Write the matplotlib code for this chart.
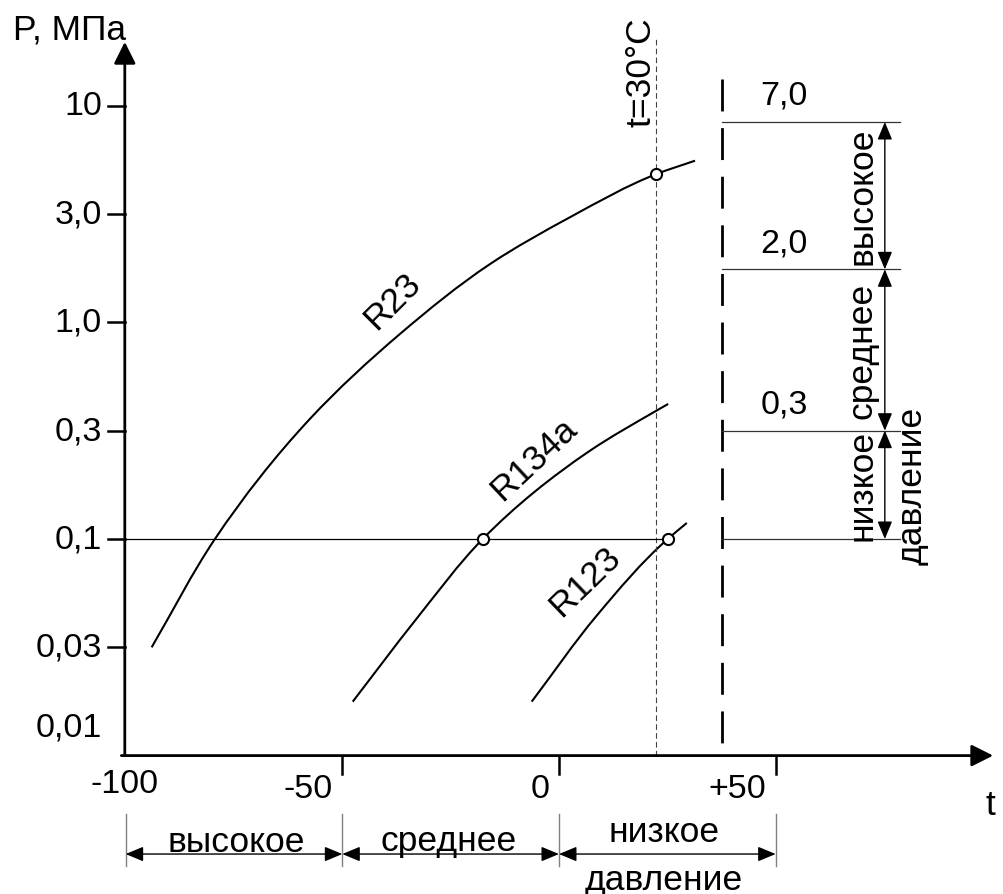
import matplotlib
matplotlib.use("Agg")
import matplotlib.pyplot as plt
import numpy as np
from matplotlib.path import Path
from matplotlib.patches import PathPatch

plt.rcParams['font.family'] = ['Liberation Sans', 'DejaVu Sans']

# y is a schematic scale: one step per tick label (0,1 -> 0, 0,3 -> 1, ...)
y_tick_pos = [-1.74, -1.0, 0.0, 1.0, 2.0, 3.0, 4.0]
y_tick_labels = ['0,01', '0,03', '0,1', '0,3', '1,0', '3,0', '10']
y_tick_marks = [False, True, True, True, True, True, True]

x_ticks = [-100, -50, 0, 50]
x_tick_labels = ['-100', '-50', '0', '+50']

# saturation curves (t, level)
r23_t = [-94.0, -79.4, -57.5, -36.7, -15.9, 2.5, 22.5, 31.4]
r23_y = [-1.0, 0.0, 1.108, 1.893, 2.539, 2.97, 3.37, 3.493]
r134a_t = [-47.6, -33.2, -17.6, 7.15, 22.5, 25.2]
r134a_y = [-1.502, -0.753, 0.0, 0.815, 1.185, 1.247]
r123_t = [-6.3, 8.7, 25.1, 29.5]
r123_y = [-1.502, -0.708, 0.0, 0.148]

# marked points
pts_t = [22.5, -17.6, 25.1]
pts_y = [3.37, 0.0, 0.0]

t30 = 22.5        # line t=30°C
t_border = 37.6   # dashed border line
# pressure class boundaries (right side)
p_levels = [3.85, 2.49, 1.0, 0.0]
p_labels = ['7,0', '2,0', '0,3', '']
p_classes = ['высокое', 'среднее', 'низкое']
# temperature class boundaries (bottom)
t_bounds = [-100, -50, 0, 50]
t_classes = ['высокое', 'среднее', 'низкое']

FS = 24.5   # numbers
FW = 25.5   # words


def smooth_curve(ax, xs, ys, **kw):
    # smooth path through the read points (Bessel tangents, cubic Bezier)
    sc = np.array([4.333, 108.3])          # roughly equal screen units
    p = np.column_stack([xs, ys]) * sc
    n = len(p)
    d = np.hypot(*np.diff(p, axis=0).T)
    u = np.diff(p, axis=0) / d[:, None]    # unit chord directions
    m = np.zeros_like(p)
    m[0], m[-1] = u[0], u[-1]
    for i in range(1, n - 1):
        m[i] = (u[i - 1] * d[i] + u[i] * d[i - 1]) / (d[i - 1] + d[i])
    verts = [p[0]]
    codes = [Path.MOVETO]
    for i in range(n - 1):
        verts += [p[i] + m[i] * d[i] / 3, p[i + 1] - m[i + 1] * d[i] / 3,
                  p[i + 1]]
        codes += [Path.CURVE4] * 3
    verts = np.array(verts) / sc
    ax.add_patch(PathPatch(Path(verts, codes), fill=False, **kw))


fig = plt.figure(figsize=(10.04, 8.95), dpi=100)
ax = fig.add_axes([0, 0, 1, 1])
ax.set_xlim(-129.0, 102.7)
ax.set_ylim(-3.278, 4.986)
ax.axis('off')

y0 = -2.0  # x-axis level
head = dict(arrowstyle='-|>,head_length=0.6,head_width=0.3', lw=2,
            color='black', mutation_scale=22, shrinkA=0, shrinkB=0)
ax.annotate('', xy=(-100.2, 4.59), xytext=(-100.2, y0), arrowprops=head)
ax.annotate('', xy=(100.2, y0), xytext=(-101.0, y0), arrowprops=head)

# y ticks
for pos, lab, mark in zip(y_tick_pos, y_tick_labels, y_tick_marks):
    if mark:
        ax.plot([-104.0, -100.2], [pos, pos], color='black', lw=1.8)
    ax.text(-105.5, pos, lab, ha='right', va='center', fontsize=FS)

# x ticks
for xt in x_ticks:
    if xt != -100:
        ax.plot([xt, xt], [y0, y0 - 0.166], color='black', lw=1.8)
for xt, lab in zip(x_ticks, x_tick_labels):
    if xt == -100:
        ax.text(xt - 0.3, -2.262, lab, ha='center', va='center', fontsize=FS)
    else:
        ax.text(xt - 2.2, -2.30, lab, ha='right', va='center', fontsize=FS)

ax.text(-126.0, 4.617, 'P, МПа', ha='left', va='baseline', fontsize=FW)
ax.text(99.5, -2.45, 't', ha='center', va='center', fontsize=FW)

# t=30°C line
ax.plot([t30, t30], [y0, 4.64], color='#444444', lw=0.8,
        linestyle=(0, (5, 3)))
ax.text(18.9, 4.32, 't=30°C', rotation=90, ha='center', va='center',
        fontsize=FW)

# dashed border
ax.plot([t_border, t_border], [4.25, y0], color='black', lw=2,
        linestyle=(0, (11.5, 6)))

# 0,1 line
ax.plot([-100.2, 25.1], [0, 0], color='black', lw=0.9)

# curves
for tt, yy in [(r23_t, r23_y), (r134a_t, r134a_y), (r123_t, r123_y)]:
    smooth_curve(ax, tt, yy, edgecolor='black', lw=1.5)
ax.plot(pts_t, pts_y, 'o', mfc='white', mec='black', ms=8, mew=1.5, zorder=5)

ax.text(-38.5, 2.207, 'R23', rotation=45, ha='center', va='center',
        rotation_mode='anchor', fontsize=FW)
ax.text(-5.9, 0.739, 'R134a', rotation=43, ha='center', va='center',
        rotation_mode='anchor', fontsize=FW)
ax.text(6.0, -0.388, 'R123', rotation=44, ha='center', va='center',
        rotation_mode='anchor', fontsize=FW)

# right: pressure classes
for lvl, lab in zip(p_levels, p_labels):
    ax.plot([t_border, 78.6], [lvl, lvl], color='#333333', lw=0.9)
    if lab:
        ax.text(52.0, lvl + 0.245, lab, ha='center', va='center', fontsize=FS)
dim = dict(arrowstyle='<|-|>,head_length=0.6,head_width=0.25', lw=1,
           color='black', mutation_scale=18, shrinkA=0, shrinkB=0)
for i in range(3):
    ax.annotate('', xy=(75.2, p_levels[i]), xytext=(75.2, p_levels[i + 1]),
                arrowprops=dim)
    mid = (p_levels[i] + p_levels[i + 1]) / 2
    ax.text(72.2, mid, p_classes[i], rotation=90, ha='center', va='baseline',
            rotation_mode='anchor', fontsize=FW)
ax.text(83.7, (p_levels[2] + p_levels[3]) / 2, 'давление', rotation=90,
        ha='center', va='baseline', rotation_mode='anchor', fontsize=FW)

# bottom: temperature classes
for tb in t_bounds:
    ax.plot([tb, tb], [-2.54, -3.02], color='#808080', lw=1)
for i in range(3):
    ax.annotate('', xy=(t_bounds[i], -2.909), xytext=(t_bounds[i + 1], -2.909),
                arrowprops=dim)
ax.text(-74.5, -2.88, t_classes[0], ha='center', va='baseline', fontsize=FW)
ax.text(-25.5, -2.87, t_classes[1], ha='center', va='baseline', fontsize=FW)
ax.text(24.2, -2.79, t_classes[2], ha='center', va='baseline', fontsize=FW)
ax.text(24.2, -3.232, 'давление', ha='center', va='baseline', fontsize=FW)

fig.savefig('out.png', dpi=100)
